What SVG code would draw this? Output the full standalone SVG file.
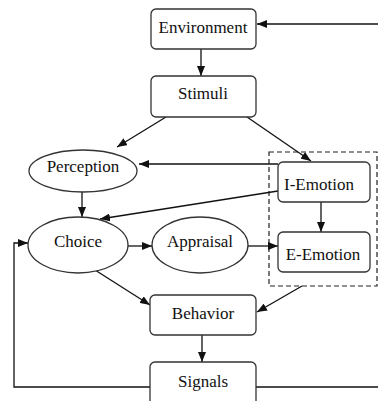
<svg xmlns="http://www.w3.org/2000/svg" width="378" height="401" viewBox="0 0 378 401">
<style>
.n{fill:#fff;stroke:#333;stroke-width:1.3}
.t{font-size:17px;fill:#111;text-anchor:middle}
.c{fill:none;stroke:#111;stroke-width:1.3}
.d{fill:none;stroke:#222;stroke-width:1.2;stroke-dasharray:5 3}
</style>
<defs>
<marker id="a" viewBox="0 0 10 8" refX="10" refY="4" markerWidth="10" markerHeight="8" markerUnits="userSpaceOnUse" orient="auto">
<path d="M0,0 L10,4 L0,8 Z" fill="#111"/>
</marker>
</defs>
<rect class="d" x="269" y="152" width="108" height="134"/>
<g id="connectors">
<path class="c" d="M378,24 H257" marker-end="url(#a)"/>
<path class="c" d="M201,49 V76" marker-end="url(#a)"/>
<path class="c" d="M166,117 L117,147" marker-end="url(#a)"/>
<path class="c" d="M247,117 L311,161" marker-end="url(#a)"/>
<path class="c" d="M278,164 H139" marker-end="url(#a)"/>
<path class="c" d="M278,191 L100,219" marker-end="url(#a)"/>
<path class="c" d="M82,192 V217" marker-end="url(#a)"/>
<path class="c" d="M127,246 H152" marker-end="url(#a)"/>
<path class="c" d="M248,246 H278" marker-end="url(#a)"/>
<path class="c" d="M321,202 V232" marker-end="url(#a)"/>
<path class="c" d="M95,270 L150,305" marker-end="url(#a)"/>
<path class="c" d="M302,286 L257,312" marker-end="url(#a)"/>
<path class="c" d="M202,335 V362" marker-end="url(#a)"/>
<path class="c" d="M151,387 H14 V243 H28" marker-end="url(#a)"/>
<path class="c" d="M256,387 H378"/>
</g>
<g font-family="Liberation Serif, serif">
<g id="environment"><rect class="n" x="151" y="9" width="105" height="40" rx="5"/><text class="t" x="203" y="33">Environment</text></g>
<g id="stimuli"><rect class="n" x="151" y="76" width="105" height="41" rx="5"/><text class="t" x="203" y="99">Stimuli</text></g>
<g id="perception"><ellipse class="n" cx="83" cy="171" rx="54" ry="21"/><text class="t" x="83" y="172">Perception</text></g>
<g id="i-emotion"><rect class="n" x="278" y="162" width="92" height="40" rx="5"/><text class="t" x="319" y="190">I-Emotion</text></g>
<g id="choice"><ellipse class="n" cx="78" cy="245" rx="50" ry="28"/><text class="t" x="78" y="247">Choice</text></g>
<g id="appraisal"><ellipse class="n" cx="200" cy="245" rx="48" ry="28"/><text class="t" x="200" y="247">Appraisal</text></g>
<g id="e-emotion"><rect class="n" x="278" y="232" width="92" height="40" rx="5"/><text class="t" x="323" y="260">E-Emotion</text></g>
<g id="behavior"><rect class="n" x="150" y="295" width="106" height="40" rx="5"/><text class="t" x="203" y="319">Behavior</text></g>
<g id="signals"><rect class="n" x="150" y="362" width="106" height="50" rx="5"/><text class="t" x="203" y="387">Signals</text></g>
</g>
</svg>
